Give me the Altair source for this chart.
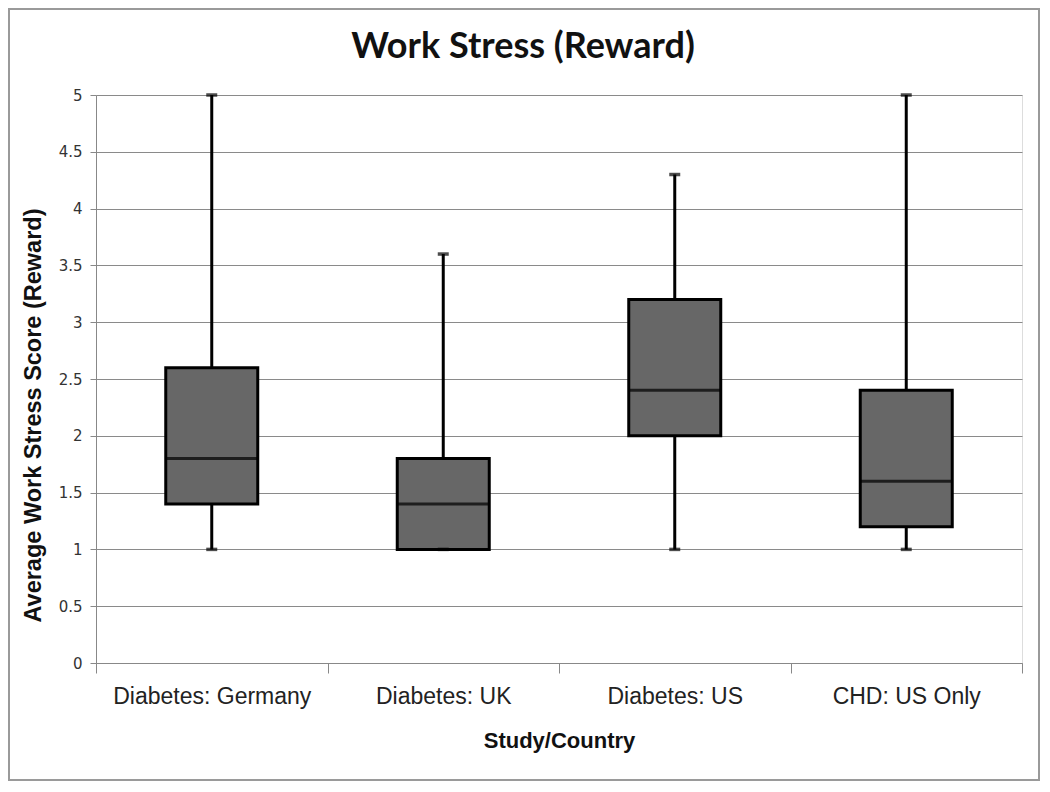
import altair as alt
import pandas as pd

categories = ["Diabetes: Germany", "Diabetes: UK", "Diabetes: US", "CHD: US Only"]
mins = [1.0, 1.0, 1.0, 1.0]
q1s = [1.4, 1.0, 2.0, 1.2]
medians = [1.8, 1.4, 2.4, 1.6]
q3s = [2.6, 1.8, 3.2, 2.4]
maxs = [5.0, 3.6, 4.3, 5.0]

df = pd.DataFrame({"cat": categories, "lo": mins, "q1": q1s, "med": medians, "q3": q3s, "hi": maxs})

W, H = 926, 568

x = alt.X("cat:N", sort=categories, title="Study/Country",
          scale=alt.Scale(paddingInner=0, paddingOuter=0),
          axis=alt.Axis(labelAngle=0, tickBand="extent", grid=False, domainColor="#888888",
                        tickColor="#888888", tickSize=10, tickWidth=1, labelPadding=12,
                        labelLimit=0,
                        labelFont="Liberation Sans", labelFontSize=23, labelColor="#222222",
                        titleFont="Liberation Sans", titleFontSize=22, titleFontWeight="bold",
                        titleColor="#111111", titlePadding=22))
y = alt.Y("lo:Q", title="Average Work Stress Score (Reward)",
          scale=alt.Scale(domain=[0, 5], nice=False),
          axis=alt.Axis(values=[0, 0.5, 1, 1.5, 2, 2.5, 3, 3.5, 4, 4.5, 5],
                        labelExpr="datum.value", grid=True, gridColor="#8a8a8a", gridWidth=1.2,
                        domainColor="#888888", tickColor="#888888", tickSize=6, labelPadding=8,
                        labelFont="DejaVu Sans", labelFontSize=15, labelColor="#333333",
                        titleFont="Liberation Sans", titleFontSize=23.5, titleFontWeight="bold",
                        titleColor="#111111", titleX=-63, titleY=320, titleAngle=270,
                        titleAlign="center", titleBaseline="middle"))

base = alt.Chart(df)

whisker = base.mark_rule(color="black", strokeWidth=3).encode(x=x, y=y, y2="hi:Q")
box = base.mark_bar(size=92, fill="#676767", stroke="black", strokeWidth=3).encode(
    x=alt.X("cat:N", sort=categories), y="q1:Q", y2="q3:Q")
med = base.mark_tick(size=92, thickness=3, color="black", orient="horizontal").encode(
    x=alt.X("cat:N", sort=categories), y="med:Q")
cap_top = base.mark_tick(size=11, thickness=3.5, color="black", orient="horizontal").encode(
    x=alt.X("cat:N", sort=categories), y="hi:Q")
cap_bot = base.mark_tick(size=11, thickness=3.5, color="black", orient="horizontal").encode(
    x=alt.X("cat:N", sort=categories), y="lo:Q")

frame = alt.Chart(pd.DataFrame({"a": [0]})).mark_rect(
    fill=None, stroke="#9a9a9a", strokeWidth=2, clip=False).encode(
    x=alt.value(-87), x2=alt.value(W + 17), y=alt.value(-86), y2=alt.value(H + 117))

chart = alt.layer(whisker, box, med, cap_top, cap_bot, frame).properties(
    width=W, height=H,
    title=alt.TitleParams("Work Stress (Reward)", font="Lato", fontSize=36, fontWeight="bold",
                          color="#111111", anchor="middle", offset=-58, dx=-36),
    autosize=alt.AutoSizeParams(type="none"),
    padding={"left": 88, "top": 87, "right": 20, "bottom": 120},
).configure_view(stroke=None).configure(background="white")

chart.save("out.html", embed_options={"renderer": "svg", "actions": False})
